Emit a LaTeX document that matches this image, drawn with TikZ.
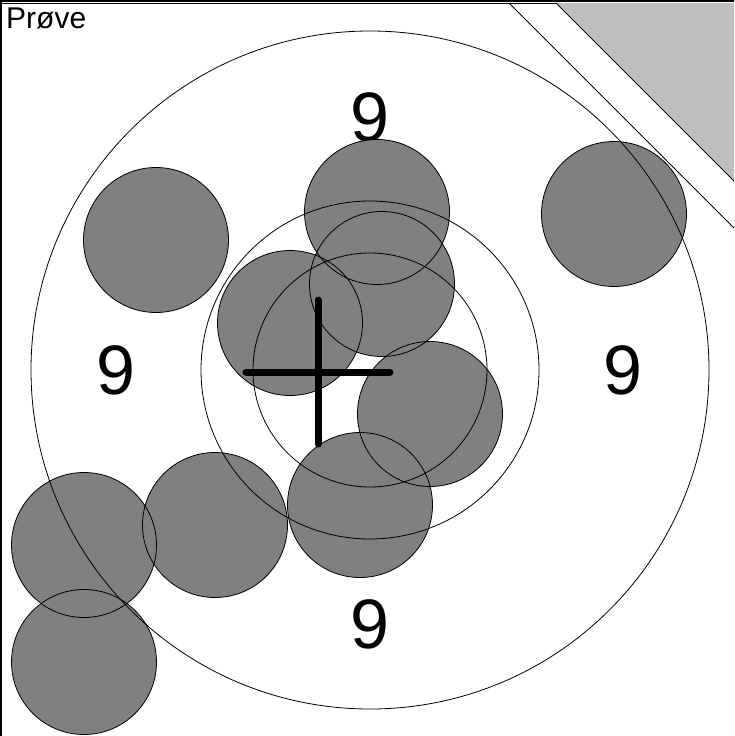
\documentclass[tikz,border=0pt]{standalone}
\usepackage{fontspec}
\setmainfont{Liberation Sans}
\def\shotlist{156/240, 614/214, 377/212, 382/284, 290/323, 430/414, 360/505, 215/525, 84/545, 84/662}
\begin{document}
\begin{tikzpicture}[x=1pt,y=-1pt,
  shot/.style={fill=black!50},
  ring/.style={line width=0.8pt},
  score/.style={font=\fontsize{70}{84}\selectfont,inner sep=0pt}]
\useasboundingbox (0,0) rectangle (734,736);

\draw[line width=1.5pt] (0,0.75) -- (734,0.75);
\draw[line width=0.8pt] (0,3) -- (734,3);
\draw[line width=1.5pt] (0.75,0) -- (0.75,736);

\fill[black!25] (556,3) -- (734,3) -- (734,181) -- cycle;
\draw[line width=0.8pt] (556,3) -- (734,181);
\draw[line width=0.8pt] (509,3) -- (734,228);

\node[anchor=base west,inner sep=0pt,font=\fontsize{30}{36}\selectfont] (title) at (6,28) {Prøve};

\coordinate (centre) at (370,370);
\node[score] (nineN) at (370,117) {9};
\node[score] (nineW) at (116,370) {9};
\node[score] (nineE) at (623,370) {9};
\node[score] (nineS) at (370,624) {9};

\foreach \x/\y in \shotlist
  \fill[shot] (\x,\y) circle[radius=72.5];
\foreach \x/\y in \shotlist
  \draw[line width=0.8pt] (\x,\y) circle[radius=72.5];

\draw[ring] (centre) circle[radius=339];
\draw[ring] (centre) circle[radius=169];
\draw[ring] (centre) circle[radius=117];

\draw[line width=7pt,line cap=round] (246,372) -- (390,372);
\draw[line width=7pt,line cap=round] (318,300) -- (318,444);
\end{tikzpicture}
\end{document}
